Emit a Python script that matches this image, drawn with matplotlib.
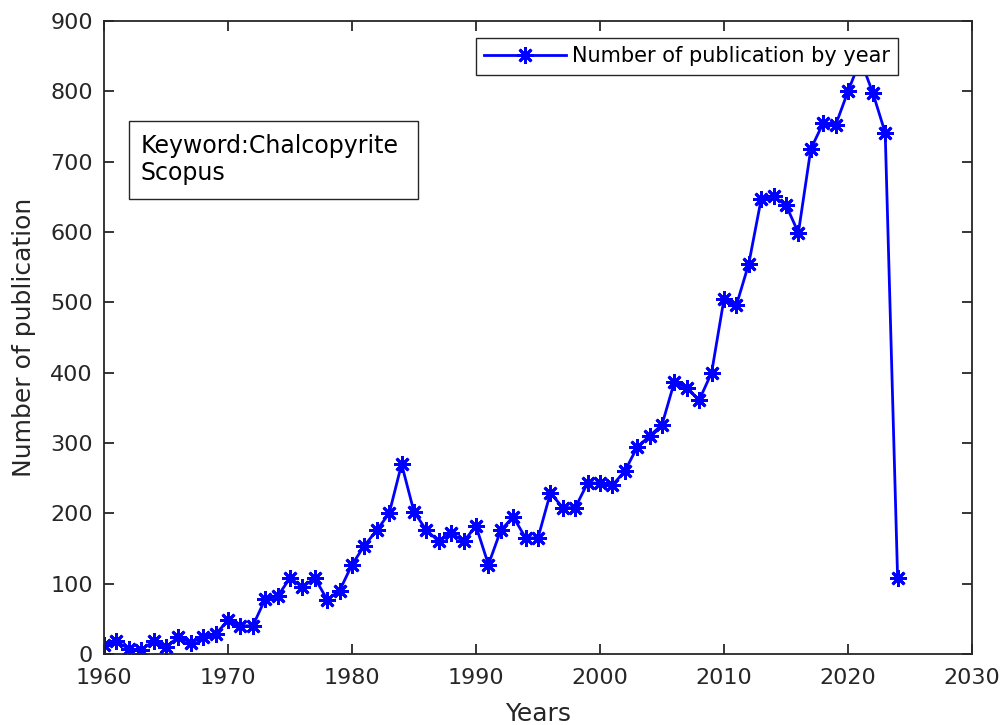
import matplotlib
matplotlib.use("Agg")
import matplotlib.pyplot as plt
import matplotlib.patches as mpatches

plt.rcParams['font.family'] = ['DejaVu Sans']

years = list(range(1960, 2025))
publications = [13, 18, 7, 6, 18, 10, 24, 16, 24, 28,
                48, 40, 40, 78, 82, 108, 95, 108, 77, 90,
                127, 154, 176, 200, 270, 202, 176, 160, 172, 160,
                182, 127, 176, 195, 165, 165, 229, 208, 208, 243,
                243, 240, 260, 294, 310, 326, 387, 378, 361, 400,
                505, 496, 555, 647, 651, 638, 599, 718, 755, 752,
                800, 845, 798, 741, 108]

xticks = [1960, 1970, 1980, 1990, 2000, 2010, 2020, 2030]
yticks = [0, 100, 200, 300, 400, 500, 600, 700, 800, 900]

fig = plt.figure(figsize=(10.03, 7.25), dpi=100)
ax = fig.add_axes([0.1037, 0.098, 0.8654, 0.873])

ax.plot(years, publications, color='#0000ff', linewidth=2.0,
        marker=(8, 2, 0), markersize=12, markeredgewidth=2.0,
        label='Number of publication by year')

ax.set_xlim(1960, 2030)
ax.set_ylim(0, 900)
ax.set_xticks(xticks)
ax.set_yticks(yticks)

dark = '#262626'
for s in ax.spines.values():
    s.set_color(dark)
    s.set_linewidth(1.3)
ax.tick_params(direction='in', length=7, width=1.3, colors=dark,
               labelsize=16, top=True, right=True, pad=8)
ax.tick_params(axis='x', pad=10)

ax.set_xlabel('Years', fontsize=18, color=dark, labelpad=10)
ax.set_ylabel('Number of publication', fontsize=18, color=dark, labelpad=10)

leg = ax.legend(loc='upper right', bbox_to_anchor=(0.915, 0.973),
                fontsize=15, fancybox=False, framealpha=1,
                edgecolor=dark, borderpad=0.4, handlelength=3.9,
                handletextpad=0.3, borderaxespad=0)
leg.get_frame().set_linewidth(1.0)

# annotation box with the search details
box = mpatches.Rectangle((0.0288, 0.719), 0.333, 0.123, transform=ax.transAxes,
                         facecolor='white', edgecolor=dark, linewidth=1.0,
                         zorder=5)
ax.add_patch(box)
ax.text(0.0426, 0.781, 'Keyword:Chalcopyrite\nScopus', transform=ax.transAxes,
        fontsize=17, va='center', ha='left', linespacing=1.15, zorder=6)

fig.savefig('out.png', dpi=100)
